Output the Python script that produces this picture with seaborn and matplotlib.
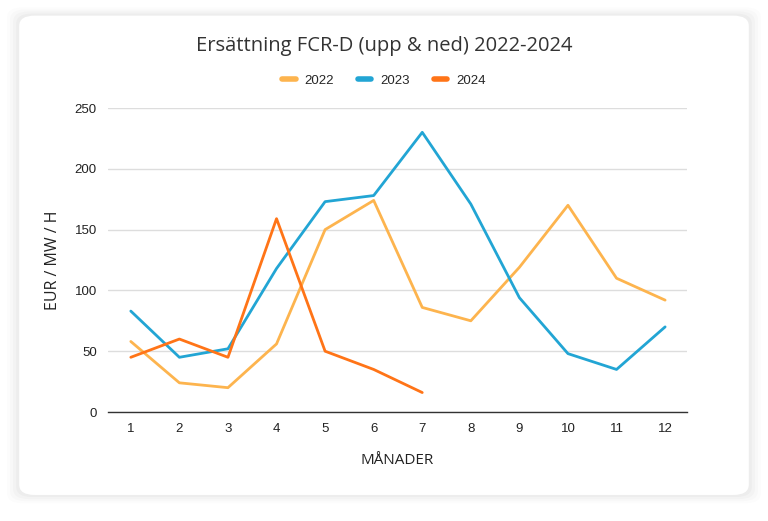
import pandas as pd
import seaborn as sns
import matplotlib.pyplot as plt
from matplotlib.patches import FancyBboxPatch

months = list(range(1, 13))
values_2022 = [58, 24, 20, 56, 150, 174, 86, 75, 119, 170, 110, 92]
values_2023 = [83, 45, 52, 118, 173, 178, 230, 171, 94, 48, 35, 70]
values_2024 = [45, 60, 45, 159, 50, 35, 16]
years = ["2022", "2023", "2024"]
colors = ["#FDB44E", "#22A5D4", "#FF7417"]

rows = []
for year, vals in zip(years, [values_2022, values_2023, values_2024]):
    for m, v in zip(months, vals):
        rows.append({"month": m, "value": v, "year": year})
df = pd.DataFrame(rows)

sns.set_style("white")
plt.rcParams["font.family"] = ["Liberation Sans", "DejaVu Sans"]
label_font = ["Open Sans", "DejaVu Sans"]

fig = plt.figure(figsize=(7.68, 5.21), dpi=100)
fig.patch.set_facecolor("white")

# card with soft shadow
for i, a in enumerate([0.012, 0.015, 0.02, 0.025]):
    pad = (4 - i) * 0.004
    fig.patches.append(FancyBboxPatch((0.025 - pad, 0.05 - pad), 0.95 + 2 * pad, 0.92 + 2 * pad,
                                      boxstyle="round,pad=0,rounding_size=0.02",
                                      transform=fig.transFigure, facecolor="black",
                                      alpha=a, edgecolor="none", zorder=0))
fig.patches.append(FancyBboxPatch((0.025, 0.05), 0.95, 0.92,
                                  boxstyle="round,pad=0,rounding_size=0.02",
                                  transform=fig.transFigure, facecolor="white",
                                  edgecolor="none", zorder=1))

ax = fig.add_axes([0.1406, 0.2092, 0.7539, 0.5835])
ax.set_zorder(3)
ax.set_facecolor("none")
sns.lineplot(data=df, x="month", y="value", hue="year", palette=colors,
             linewidth=2, ax=ax, legend=False)

ax.set_xlim(0.53, 12.45)
ax.set_ylim(0, 250)
ax.set_xticks(months)
ax.set_yticks([0, 50, 100, 150, 200, 250])
ax.grid(axis="y", color="#dddddd", linewidth=1)
ax.set_axisbelow(True)
for s in ["top", "right", "left"]:
    ax.spines[s].set_visible(False)
ax.spines["bottom"].set_color("#333333")
ax.spines["bottom"].set_linewidth(1)
ax.tick_params(axis="both", length=0, labelsize=9.5, colors="#222222", pad=8)
ax.set_xlabel("MÅNADER", fontsize=11, color="#222222", labelpad=13, family=label_font)
ax.set_ylabel("EUR / MW / H", fontsize=11.5, color="#222222", labelpad=10, family=label_font)

fig.text(0.5, 0.912, "Ersättning FCR-D (upp & ned) 2022-2024", ha="center", va="center",
         fontsize=14.5, color="#333333", family=label_font, zorder=3)

handles = [plt.Line2D([0], [0], color=c, linewidth=4) for c in colors]
leg = fig.legend(handles, years, loc="center", bbox_to_anchor=(0.5, 0.845), ncol=3, frameon=False,
                 fontsize=9.5, handlelength=1.0, columnspacing=1.8, handletextpad=0.7)
leg.set_zorder(3)

fig.savefig("out.png", dpi=100)
